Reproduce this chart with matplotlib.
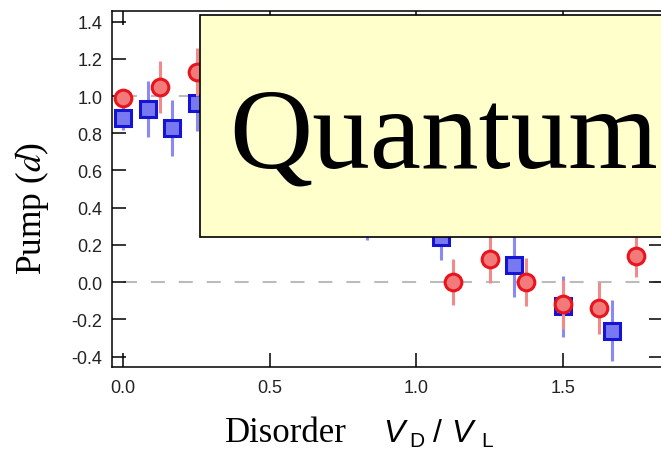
import numpy as np
import matplotlib
matplotlib.use("Agg")
import matplotlib.pyplot as plt
from matplotlib.patches import Rectangle

plt.rcParams['axes.unicode_minus'] = False

# red circles (one data set)
red_x = [0.0, 0.125, 0.25, 0.375, 0.5, 0.625, 0.75, 0.875, 1.0,
         1.125, 1.25, 1.375, 1.5, 1.625, 1.75]
red_y = [0.99, 1.05, 1.13, 1.05, 0.95, 0.85, 0.75, 0.65, 0.55,
         0.0, 0.125, 0.0, -0.12, -0.14, 0.14]
red_err = [0.05, 0.14, 0.13, 0.13, 0.13, 0.13, 0.13, 0.13, 0.13,
           0.125, 0.13, 0.13, 0.13, 0.14, 0.11]

# blue squares (other data set)
blue_x = [0.0, 0.083, 0.167, 0.25, 0.333, 0.417, 0.5, 0.583, 0.667,
          0.75, 0.833, 0.917, 1.0, 1.083, 1.333, 1.5, 1.667]
blue_y = [0.88, 0.93, 0.83, 0.96, 0.9, 0.85, 0.8, 0.72, 0.65,
          0.6, 0.38, 0.6, 0.55, 0.24, 0.09, -0.13, -0.26]
blue_err = [0.06, 0.15, 0.15, 0.15, 0.15, 0.15, 0.15, 0.15, 0.15,
            0.15, 0.155, 0.15, 0.15, 0.12, 0.17, 0.165, 0.165]

xticks = [0.0, 0.5, 1.0, 1.5]
yticks = [-0.4, -0.2, 0.0, 0.2, 0.4, 0.6, 0.8, 1.0, 1.2, 1.4]

W, H = 661, 452
fig = plt.figure(figsize=(W / 100, H / 100), dpi=100)
ax = fig.add_axes([112 / W, (H - 367.6) / H, (663 - 112) / W, (367.6 - 12) / H])

# reference lines
for yref in [0.0, 1.0]:
    ax.plot([0, 2.0], [yref, yref], color='#bbbbbb', lw=1.5,
            dashes=(6.7, 6.7), zorder=1)

ax.errorbar(blue_x, blue_y, yerr=blue_err, fmt='s', ms=11.5,
            mfc='#7878f0', mec='#1414d2', mew=2.2,
            ecolor='#8a8af2', elinewidth=2.2, capsize=0, zorder=3)
ax.errorbar(red_x, red_y, yerr=red_err, fmt='o', ms=12,
            mfc='#f27a7a', mec='#e8141e', mew=2.2,
            ecolor='#f28a8a', elinewidth=2.2, capsize=0, zorder=4)

ax.set_xlim(-0.0386, 1.8417)
ax.set_ylim(-0.454, 1.457)
ax.set_xticks(xticks)
ax.set_yticks(yticks)
ax.set_xticklabels(['%.1f' % v for v in xticks])
ax.set_yticklabels(['%.1f' % v for v in yticks])
ax.tick_params(direction='in', length=10, width=1.1, top=True, right=True,
               labelsize=13, pad=7)
ax.tick_params(axis='x', pad=9)
for lab in ax.get_xticklabels() + ax.get_yticklabels():
    lab.set_family('Liberation Sans')
    lab.set_color('#222222')
for sp in ax.spines.values():
    sp.set_linewidth(1.1)

# axis labels
fig.text(13 / W, 1 - 208 / H, 'Pump ($d$)', rotation=90, ha='left', va='center',
         family='Liberation Serif', fontsize=25.5, math_fontfamily='stix')
fig.text(225 / W, 1 - 441.7 / H, 'Disorder', ha='left', va='baseline',
         family='Liberation Serif', fontsize=25)
sans_it = dict(family='Liberation Sans', style='italic', va='baseline', ha='left')
sans_rm = dict(family='Liberation Sans', va='baseline', ha='left')
fig.text(383 / W, 1 - 441.7 / H, 'V', fontsize=23, **sans_it)
fig.text(409 / W, 1 - 447.5 / H, 'D', fontsize=15, **sans_rm)
fig.text(433 / W, 1 - 441.7 / H, '/', fontsize=23, **sans_rm)
fig.text(451 / W, 1 - 441.7 / H, 'V', fontsize=23, **sans_it)
fig.text(481 / W, 1 - 447.5 / H, 'L', fontsize=15, **sans_rm)

# overlay box
box = Rectangle((200 / W, 1 - 238 / H), 500 / W, 222 / H, transform=fig.transFigure,
                facecolor='#ffffcc', edgecolor='black', lw=1.2, zorder=10)
fig.add_artist(box)
fig.text(229 / W, 1 - 168 / H, 'Quantum', ha='left', va='baseline',
         family='Liberation Serif', fontsize=83, zorder=11)

fig.savefig('out.png', dpi=100)
